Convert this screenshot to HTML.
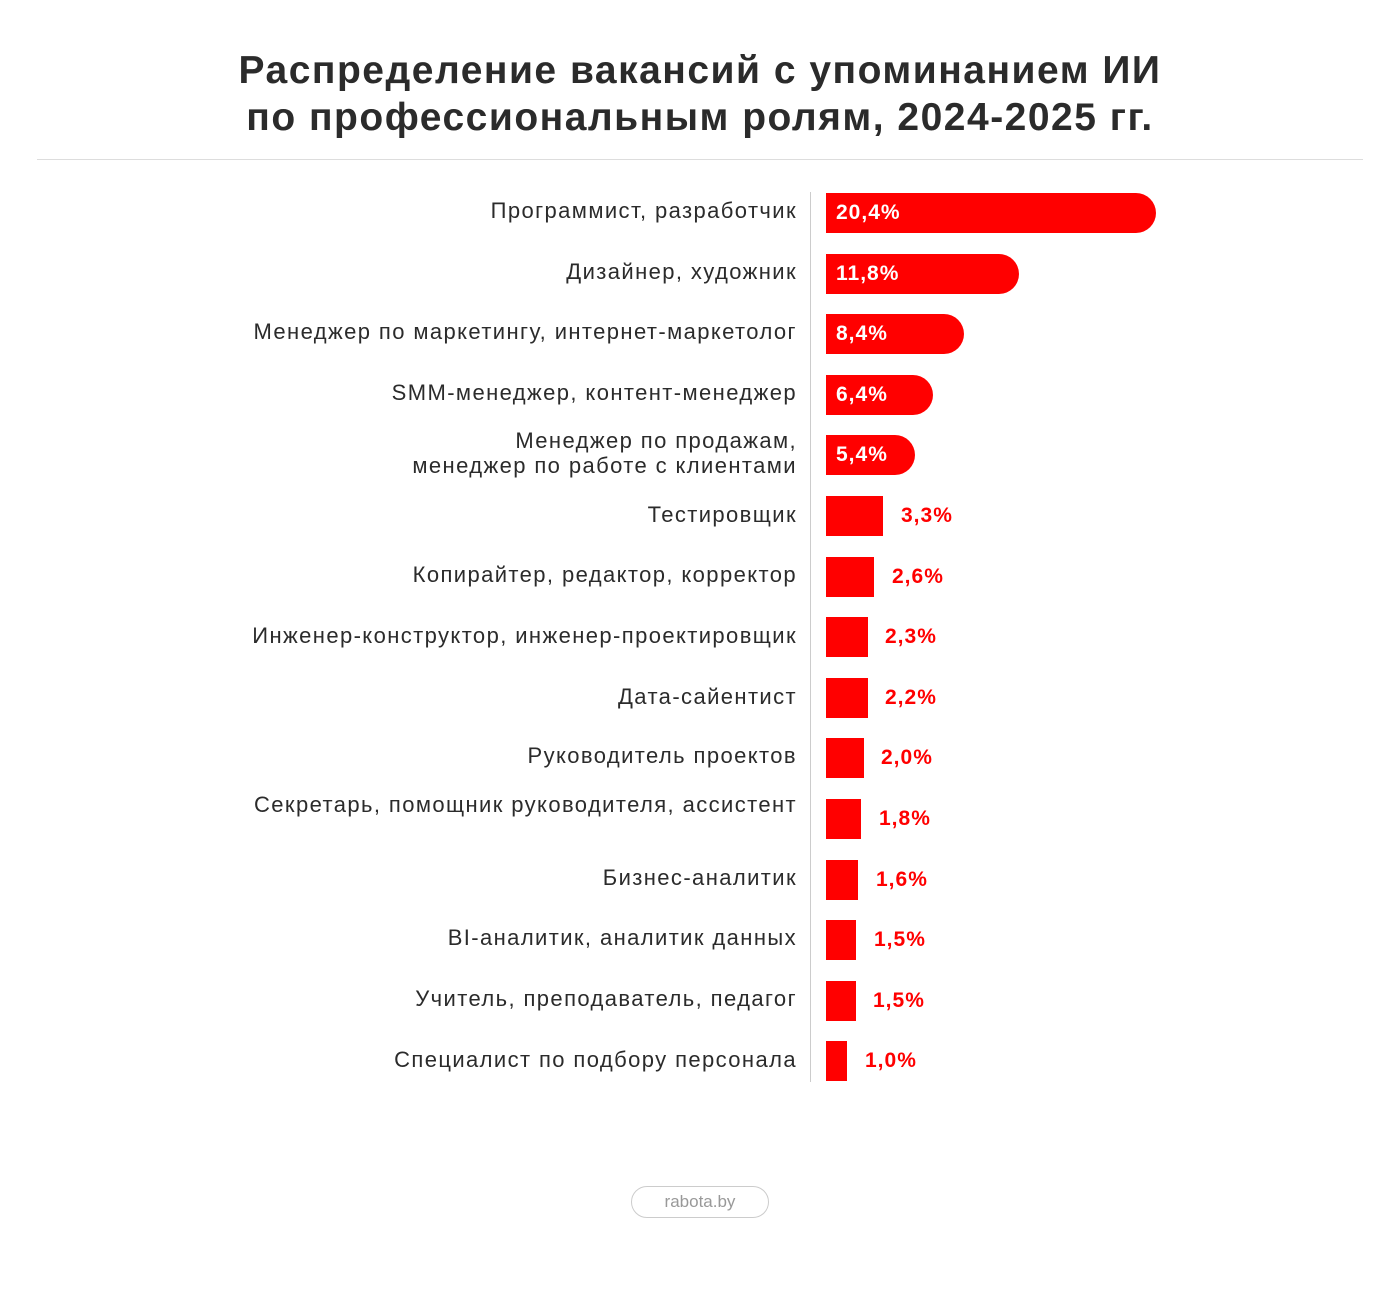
<!DOCTYPE html>
<html><head><meta charset="utf-8"><style>
body{margin:0;width:1400px;height:1301px;background:#fff;font-family:"Liberation Sans",sans-serif;position:relative;overflow:hidden}
.t{position:absolute;left:0;width:1400px;text-align:center;font-weight:bold;font-size:39px;letter-spacing:1.5px;color:#2b2b2b;line-height:47px}
.sep{position:absolute;left:37px;top:159px;width:1326px;height:1px;background:#ddd}
.ax{position:absolute;left:810px;top:192px;width:1px;height:890px;background:#ccc}
.l{position:absolute;right:603px;font-size:22px;letter-spacing:1.4px;color:#2b2b2b;text-align:right;line-height:25px;white-space:nowrap}
.b{position:absolute;left:826px;height:40px;background:#ff0000}
.r{border-radius:0 20px 20px 0}
.v{position:absolute;font-size:21px;letter-spacing:1px;font-weight:bold;line-height:40px}
.ft{position:absolute;left:631px;top:1186px;width:136px;height:30px;border:1px solid #ccc;border-radius:16px;text-align:center;line-height:30px;color:#999;font-size:17px}
</style></head><body>
<div class="t" style="top:47px">Распределение вакансий с упоминанием ИИ</div>
<div class="t" style="top:94px">по профессиональным ролям, 2024-2025 гг.</div>
<div class="sep"></div>
<div class="ax"></div>

<div class="l" style="top:198px">Программист, разработчик</div>
<div class="b r" style="top:193px;width:330px"></div><div class="v" style="top:193px;left:836px;color:#fff">20,4%</div>

<div class="l" style="top:259px">Дизайнер, художник</div>
<div class="b r" style="top:254px;width:193px"></div><div class="v" style="top:254px;left:836px;color:#fff">11,8%</div>

<div class="l" style="top:319px">Менеджер по маркетингу, интернет-маркетолог</div>
<div class="b r" style="top:314px;width:138px"></div><div class="v" style="top:314px;left:836px;color:#fff">8,4%</div>

<div class="l" style="top:380px">SMM-менеджер, контент-менеджер</div>
<div class="b r" style="top:375px;width:107px"></div><div class="v" style="top:375px;left:836px;color:#fff">6,4%</div>

<div class="l" style="top:428px">Менеджер по продажам,<br>менеджер по работе с клиентами</div>
<div class="b r" style="top:435px;width:89px"></div><div class="v" style="top:435px;left:836px;color:#fff">5,4%</div>

<div class="l" style="top:502px">Тестировщик</div>
<div class="b" style="top:496px;width:57px"></div><div class="v" style="top:496px;left:901px;color:#f00">3,3%</div>

<div class="l" style="top:562px">Копирайтер, редактор, корректор</div>
<div class="b" style="top:557px;width:48px"></div><div class="v" style="top:557px;left:892px;color:#f00">2,6%</div>

<div class="l" style="top:623px">Инженер-конструктор, инженер-проектировщик</div>
<div class="b" style="top:617px;width:42px"></div><div class="v" style="top:617px;left:885px;color:#f00">2,3%</div>

<div class="l" style="top:684px">Дата-сайентист</div>
<div class="b" style="top:678px;width:42px"></div><div class="v" style="top:678px;left:885px;color:#f00">2,2%</div>

<div class="l" style="top:743px">Руководитель проектов</div>
<div class="b" style="top:738px;width:38px"></div><div class="v" style="top:738px;left:881px;color:#f00">2,0%</div>

<div class="l" style="top:792px">Секретарь, помощник руководителя, ассистент</div>
<div class="b" style="top:799px;width:35px"></div><div class="v" style="top:799px;left:879px;color:#f00">1,8%</div>

<div class="l" style="top:865px">Бизнес-аналитик</div>
<div class="b" style="top:860px;width:32px"></div><div class="v" style="top:860px;left:876px;color:#f00">1,6%</div>

<div class="l" style="top:925px">BI-аналитик, аналитик данных</div>
<div class="b" style="top:920px;width:30px"></div><div class="v" style="top:920px;left:874px;color:#f00">1,5%</div>

<div class="l" style="top:986px">Учитель, преподаватель, педагог</div>
<div class="b" style="top:981px;width:30px"></div><div class="v" style="top:981px;left:873px;color:#f00">1,5%</div>

<div class="l" style="top:1047px">Специалист по подбору персонала</div>
<div class="b" style="top:1041px;width:21px"></div><div class="v" style="top:1041px;left:865px;color:#f00">1,0%</div>

<div class="ft">rabota.by</div>
</body></html>
